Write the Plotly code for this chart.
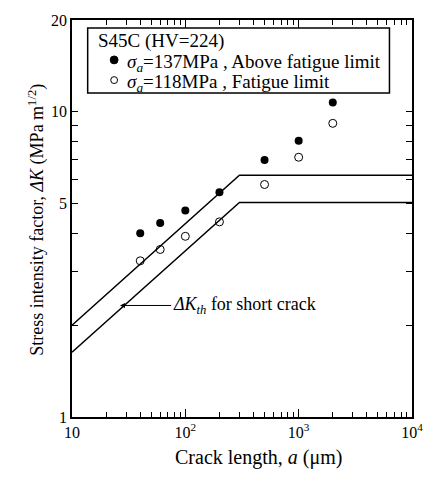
import plotly.graph_objects as go
import math

# Data
crack_len = [40, 60, 100, 200, 500, 1000, 2000]
dk_137 = [4.0, 4.32, 4.75, 5.45, 6.96, 8.04, 10.74]
dk_118 = [3.25, 3.54, 3.91, 4.36, 5.78, 7.10, 9.17]
th_x = [10, 300, 10000]
th_upper = [2.0, 6.2, 6.2]
th_lower = [1.63, 5.05, 5.05]

x_tickvals = [10, 100, 1000, 10000]
x_ticktext = ["10", "10<sup>2</sup>", "10<sup>3</sup>", "10<sup>4</sup>"]
y_tickvals = [1, 2, 3, 4, 5, 6, 7, 8, 9, 10, 20]
y_ticktext = ["1", "", "", "", "5", "", "", "", "", "10", "20"]

legend_title = "S45C (HV=224)"
name_137 = "<i>σ<sub>a</sub></i>=137MPa , Above fatigue limit"
name_118 = "<i>σ<sub>a</sub></i>=118MPa , Fatigue limit"

FONT = "Liberation Serif"
L, R, T, B = 72, 16, 14, 64
W, H = 435, 481
PW, PH = W - L - R, H - T - B


def px(x):
    return (x - L) / PW


def py(y):
    return (H - B - y) / PH


fig = go.Figure()
fig.add_trace(go.Scatter(x=th_x, y=th_upper, mode="lines",
                         line=dict(color="black", width=1.5), showlegend=False))
fig.add_trace(go.Scatter(x=th_x, y=th_lower, mode="lines",
                         line=dict(color="black", width=1.5), showlegend=False))
fig.add_trace(go.Scatter(x=crack_len, y=dk_137, mode="markers",
                         marker=dict(symbol="circle", size=8, color="black"),
                         name=name_137, showlegend=False))
fig.add_trace(go.Scatter(x=crack_len, y=dk_118, mode="markers",
                         marker=dict(symbol="circle-open", size=8, color="black",
                                     line=dict(width=1)),
                         name=name_118, showlegend=False))

minor_x = [m * d for d in (10, 100, 1000) for m in range(2, 10)]

fig.update_xaxes(type="log", range=[1, 4], tickmode="array", tickvals=x_tickvals,
                 ticktext=x_ticktext, ticks="inside", ticklen=8, tickwidth=1,
                 tickcolor="black", showline=True, linecolor="black", linewidth=1.5,
                 mirror="ticks", showgrid=False, zeroline=False,
                 tickfont=dict(family=FONT, size=16, color="black"),
                 minor=dict(tickmode="array", tickvals=minor_x, ticks="inside",
                            ticklen=5, tickcolor="black", showgrid=False))
fig.update_yaxes(type="log", range=[0, math.log10(20)], tickmode="array",
                 tickvals=y_tickvals, ticktext=y_ticktext, ticks="inside", ticklen=6,
                 tickwidth=1, tickcolor="black", showline=True, linecolor="black",
                 linewidth=1.5, mirror="ticks", showgrid=False, zeroline=False,
                 tickfont=dict(family=FONT, size=16, color="black"))

# threshold annotation
fig.add_annotation(x=math.log10(26.5), y=math.log10(2.32), xref="x", yref="y",
                   ax=math.log10(75), ay=math.log10(2.32), axref="x", ayref="y",
                   text="<i>ΔK<sub>th</sub></i> for short crack", xanchor="left",
                   showarrow=True, arrowhead=2, arrowsize=1, arrowwidth=1,
                   arrowcolor="black", font=dict(family=FONT, size=18, color="black"))

# axis titles
fig.add_annotation(x=px(262.5), y=py(458), xref="paper", yref="paper",
                   xanchor="center", yanchor="middle",
                   text="Crack length, <i>a</i> (μm)", showarrow=False,
                   font=dict(family=FONT, size=20, color="black"))
fig.add_annotation(x=px(36), y=py(217), xref="paper", yref="paper",
                   xanchor="center", yanchor="middle", textangle=-90,
                   text="Stress intensity factor, <i>ΔK</i> (MPa m<sup>1/2</sup>)",
                   showarrow=False, font=dict(family=FONT, size=18, color="black"))

# legend box (drawn manually)
fig.add_shape(type="rect", xref="paper", yref="paper",
              x0=px(88), x1=px(396), y0=py(88), y1=py(22),
              line=dict(color="black", width=1.5), fillcolor="white", layer="above")
fig.add_annotation(x=px(96), y=py(35.5), xref="paper", yref="paper",
                   xanchor="left", yanchor="middle", text=legend_title,
                   showarrow=False, font=dict(family=FONT, size=19, color="black"))
fig.add_shape(type="circle", xref="paper", yref="paper",
              x0=px(111), x1=px(119), y0=py(58.5), y1=py(50.5),
              line=dict(color="black", width=1), fillcolor="black", layer="above")
fig.add_shape(type="circle", xref="paper", yref="paper",
              x0=px(111.5), x1=px(118.5), y0=py(78.5), y1=py(71.5),
              line=dict(color="black", width=1), fillcolor="white", layer="above")
fig.add_annotation(x=px(126), y=py(58), xref="paper", yref="paper",
                   xanchor="left", yanchor="middle", text=name_137,
                   showarrow=False, font=dict(family=FONT, size=19, color="black"))
fig.add_annotation(x=px(126), y=py(77.5), xref="paper", yref="paper",
                   xanchor="left", yanchor="middle", text=name_118,
                   showarrow=False, font=dict(family=FONT, size=19, color="black"))

fig.update_layout(
    width=W, height=H,
    margin=dict(l=L, r=R, t=T, b=B),
    plot_bgcolor="white", paper_bgcolor="white",
    font=dict(family=FONT, size=16, color="black"),
    showlegend=False,
)
fig.write_html("out.html")
